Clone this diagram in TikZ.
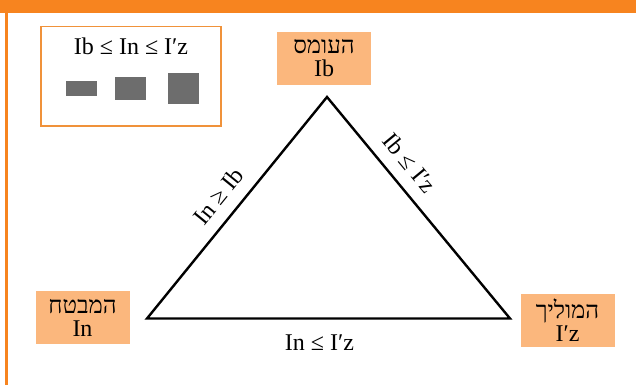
\documentclass[tikz,border=0pt]{standalone}
\usepackage{fontspec}
\setmainfont{Liberation Serif}
\newfontfamily\hebfont[Script=Hebrew]{Liberation Serif}
\TeXXeTstate=1
\newcommand{\heb}[1]{{\hebfont\beginR #1\endR}}
\definecolor{barorange}{RGB}{247,132,31}
\definecolor{boxorange}{RGB}{251,183,125}
\definecolor{legendline}{RGB}{240,146,58}
\definecolor{blockgray}{RGB}{109,109,109}

\begin{document}
\begin{tikzpicture}[x=1pt,y=-1pt,font=\fontsize{24}{23}\selectfont,
  role/.style={fill=boxorange,minimum width=94pt,minimum height=53pt,align=center,inner sep=0pt},
  rel/.style={sloped,above,inner sep=13pt}]
\useasboundingbox (0,0) rectangle (636,385);
\fill[white] (0,0) rectangle (636,385);
\fill[barorange] (0,0) rectangle (636,13);
\fill[barorange] (5,0) rectangle (7.5,385);

% legend
\draw[legendline,line width=1.2pt] (41,26.5) rectangle (221,126);
\node (order) at (131,46) {Ib ≤ In ≤ I′z};
\fill[blockgray] (66,81) rectangle (97,96);
\fill[blockgray] (115,77) rectangle (146,100);
\fill[blockgray] (168,73) rectangle (199,104);

\node[role] (load) at (324,58.5) {\heb{העומס}\\Ib};
\node[role] (guard) at (82.5,317.5) {\heb{המבטח}\\In};
\node[role] (wire) at (567.5,320) {\heb{המוליך}\\I′z};

\coordinate (apex) at (327,97);
\coordinate (lcorner) at (147,318.5);
\coordinate (rcorner) at (510,318.5);
\draw[line width=2.4pt] (lcorner) -- (apex) -- (rcorner) -- cycle;

\path (lcorner) -- (apex) node[rel,pos=0.49] (lside) {In ≥ Ib};
\path (apex) -- (rcorner) node[rel,pos=0.36] (rside) {Ib ≤ I′z};
\path (lcorner) -- (rcorner) node[below,pos=0.475,inner sep=16pt] (base) {In ≤ I′z};
\end{tikzpicture}
\end{document}
